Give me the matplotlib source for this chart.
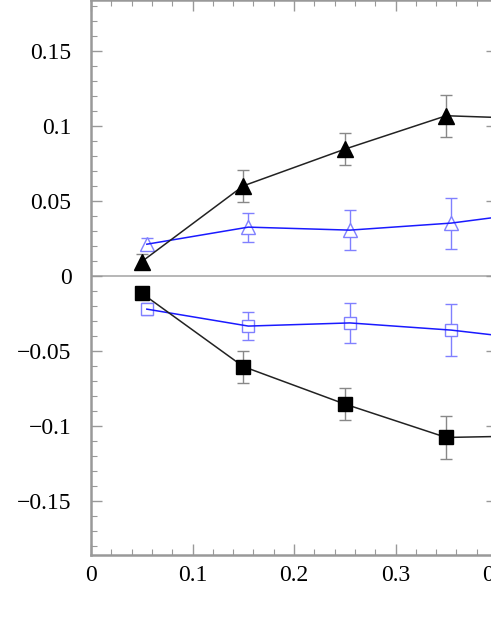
import matplotlib.pyplot as plt
from matplotlib.ticker import MultipleLocator

# data (last point lies past the cropped right edge)
x_black = [0.05, 0.15, 0.25, 0.35, 0.45]
x_blue = [0.055, 0.155, 0.255, 0.355, 0.455]

tri_black = [0.0095, 0.060, 0.0845, 0.1068, 0.1045]
tri_black_err = [0.005, 0.0105, 0.0105, 0.014, 0.012]
tri_blue = [0.0211, 0.0325, 0.0305, 0.0352, 0.0440]
tri_blue_err = [0.004, 0.0097, 0.0134, 0.017, 0.015]

sq_black = [-0.0116, -0.0605, -0.0855, -0.1078, -0.1065]
sq_black_err = [0.004, 0.0107, 0.0105, 0.0145, 0.012]
sq_blue = [-0.0222, -0.0335, -0.0314, -0.0362, -0.0440]
sq_blue_err = [0.004, 0.0096, 0.0133, 0.0171, 0.015]

xticks = [0, 0.1, 0.2, 0.3, 0.4]
yticks = [-0.15, -0.1, -0.05, 0, 0.05, 0.1, 0.15]
ytick_labels = ['\u22120.15', '\u22120.1', '\u22120.05', '0', '0.05', '0.1', '0.15']

plt.rcParams['font.family'] = ['Liberation Serif', 'DejaVu Serif']

fig = plt.figure(figsize=(4.91, 6.35), dpi=100)
ax = fig.add_axes([91 / 491, 80 / 635, 406 / 491, 555 / 635])

ax.axhline(0, color='#aaaaaa', lw=1.2, zorder=1)

lb = '#8080ff'
# blue series
ax.errorbar(x_blue, tri_blue, yerr=tri_blue_err, fmt='none', ecolor=lb, elinewidth=1, capsize=4, zorder=2)
ax.plot(x_blue, tri_blue, '^', ms=10, mfc='white', mec=lb, mew=1, zorder=3)
ax.plot(x_blue, tri_blue, '-', color='#1a1aff', lw=1.1, zorder=4)
ax.errorbar(x_blue, sq_blue, yerr=sq_blue_err, fmt='none', ecolor=lb, elinewidth=1, capsize=4, zorder=2)
ax.plot(x_blue, sq_blue, 's', ms=9, mfc='white', mec=lb, mew=1, zorder=3)
ax.plot(x_blue, sq_blue, '-', color='#1a1aff', lw=1.1, zorder=4)

# black series
ax.errorbar(x_black, tri_black, yerr=tri_black_err, fmt='none', ecolor='#888888', elinewidth=1, capsize=4, zorder=5)
ax.plot(x_black, tri_black, '-', color='#222222', lw=1.1, zorder=6)
ax.plot(x_black, tri_black, '^', ms=11, color='black', zorder=7)
ax.errorbar(x_black, sq_black, yerr=sq_black_err, fmt='none', ecolor='#888888', elinewidth=1, capsize=4, zorder=5)
ax.plot(x_black, sq_black, '-', color='#222222', lw=1.1, zorder=6)
ax.plot(x_black, sq_black, 's', ms=10, color='black', zorder=7)

ax.set_xlim(0, 0.4)
ax.set_ylim(-0.1862, 0.184)
ax.set_xticks(xticks)
ax.set_xticklabels(['0', '0.1', '0.2', '0.3', '0.4'])
ax.set_yticks(yticks)
ax.set_yticklabels(ytick_labels)
ax.xaxis.set_minor_locator(MultipleLocator(0.02))
ax.yaxis.set_minor_locator(MultipleLocator(0.01))

for s in ax.spines.values():
    s.set_color('#999999')
    s.set_linewidth(1.8)
ax.tick_params(which='both', direction='in', top=True, right=True, color='#999999',
               labelsize=17, labelcolor='black')
ax.tick_params(which='major', length=8, width=1)
ax.tick_params(which='minor', length=4, width=0.8)
ax.tick_params(axis='x', which='major', pad=7)
ax.tick_params(axis='y', which='major', pad=14)

fig.savefig('out.png', dpi=100)
